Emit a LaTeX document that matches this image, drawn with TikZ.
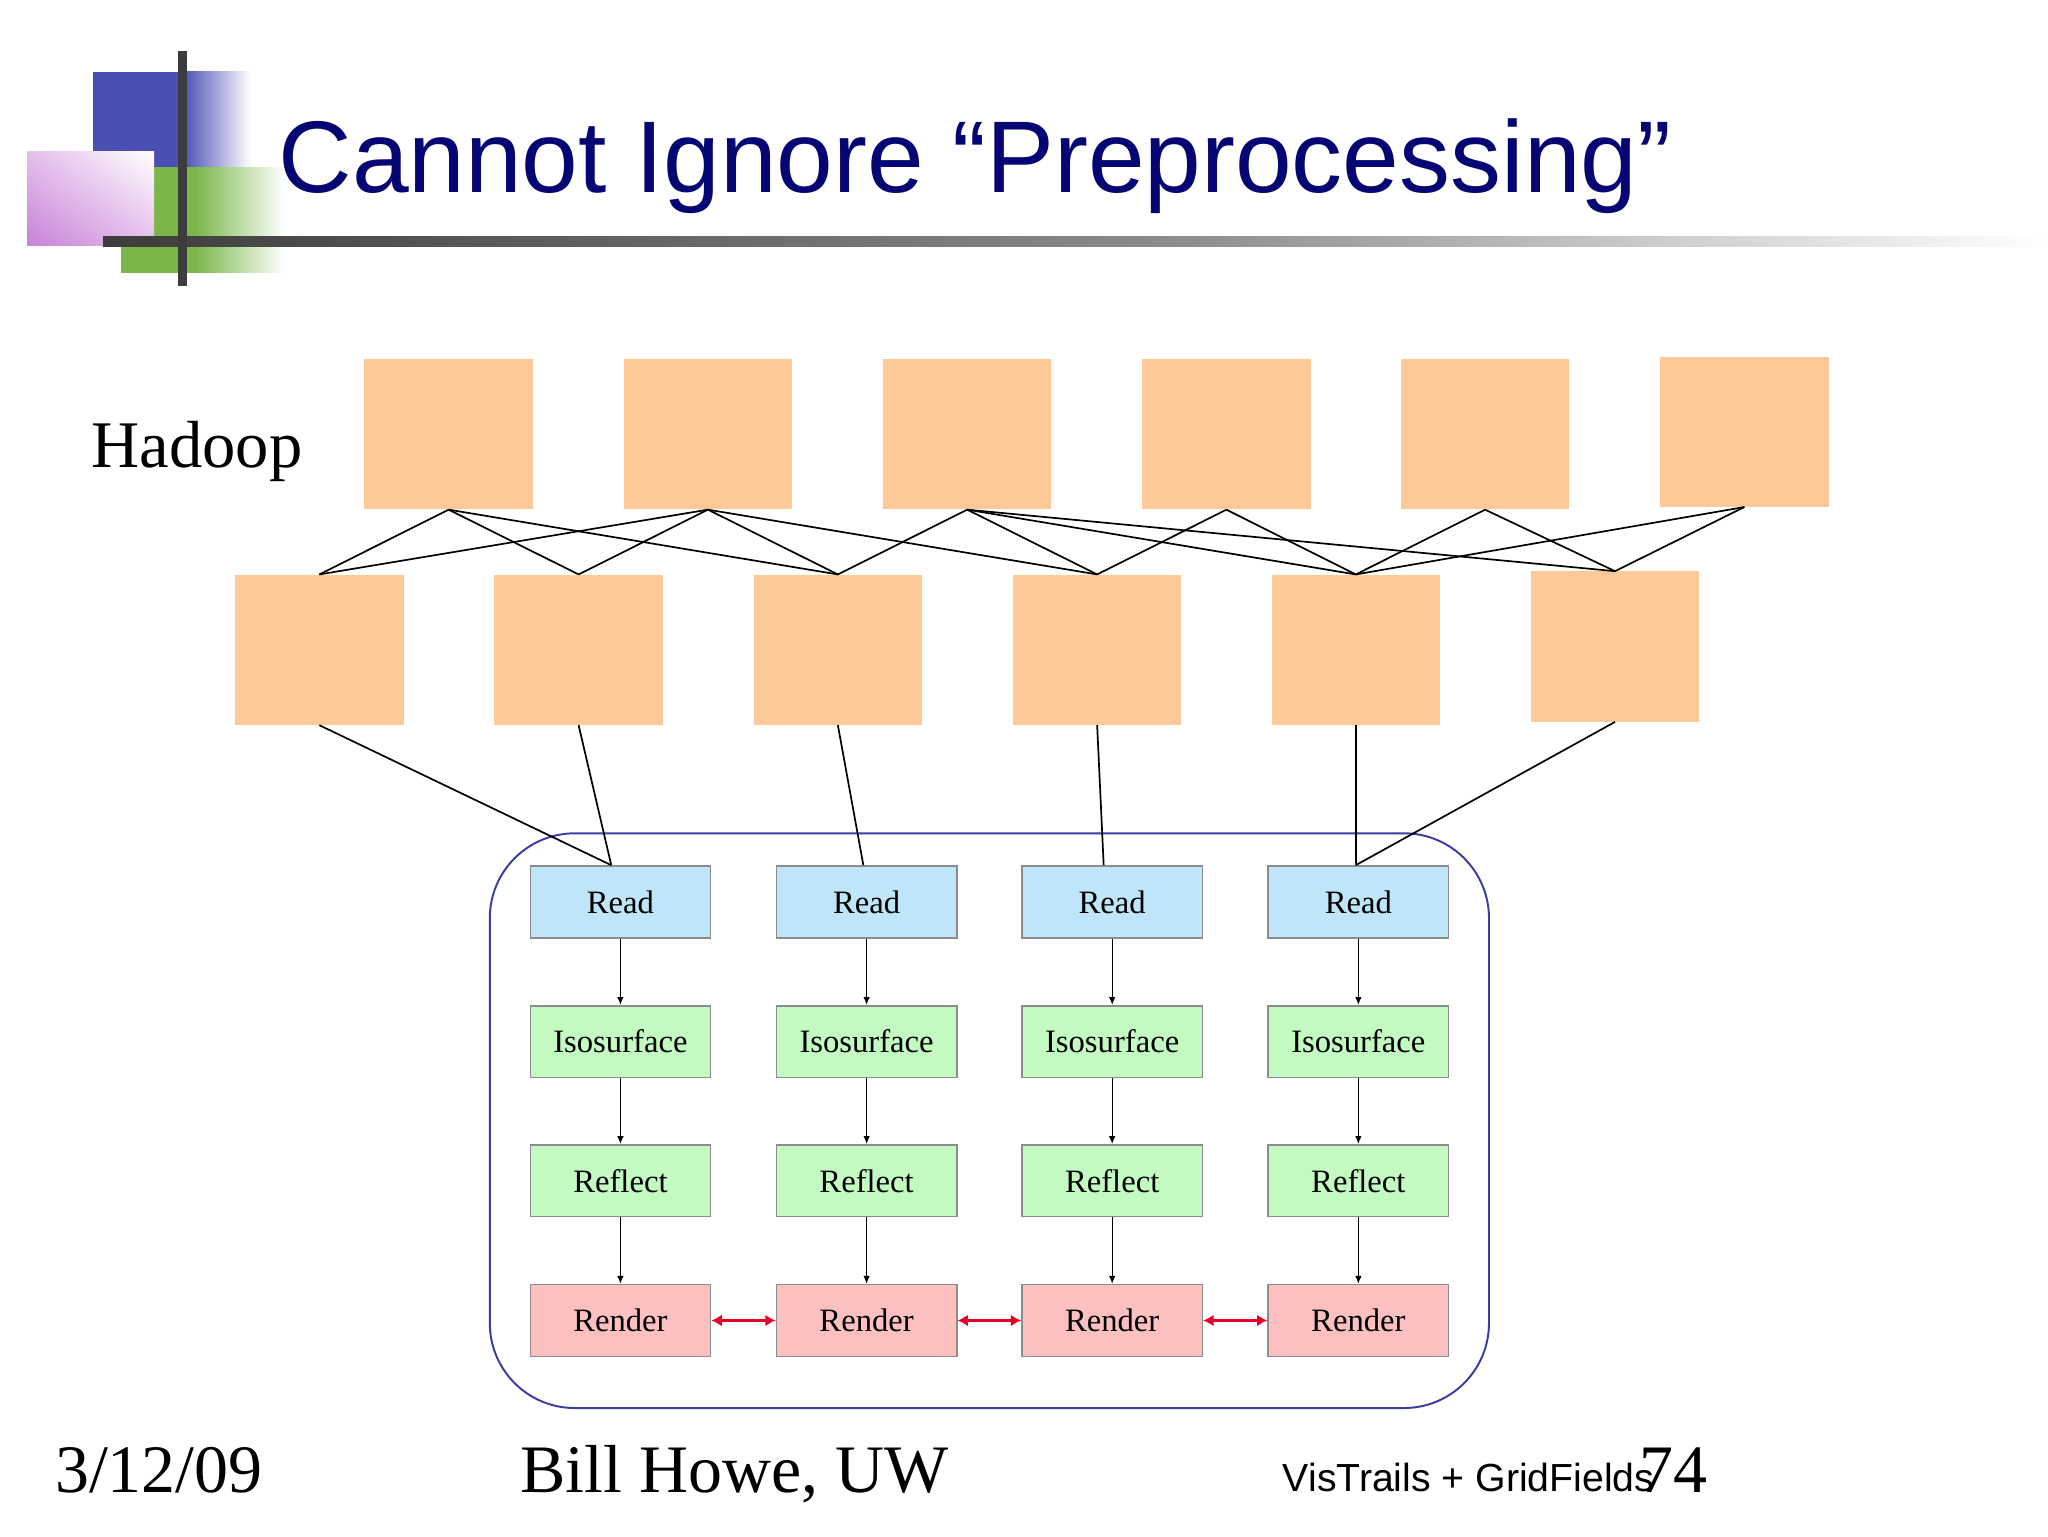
\documentclass[tikz,border=0pt]{standalone}
\usepackage{fontspec}
\setmainfont{Liberation Serif}
\newfontfamily\arialf{Liberation Sans}
\usetikzlibrary{arrows.meta,shadings}
\definecolor{peach}{RGB}{253,201,152}
\definecolor{logoblue}{RGB}{74,79,180}
\definecolor{logogreen}{RGB}{122,182,72}
\definecolor{pinkdark}{RGB}{200,130,215}
\definecolor{pinkmid}{RGB}{228,190,236}
\definecolor{bardark}{RGB}{60,60,60}
\definecolor{barmid}{RGB}{140,140,140}
\definecolor{titleblue}{RGB}{5,5,115}
\definecolor{readblue}{RGB}{191,230,248}
\definecolor{isogreen}{RGB}{194,250,194}
\definecolor{renderpink}{RGB}{252,192,192}
\definecolor{boxborder}{RGB}{140,140,140}
\definecolor{contblue}{RGB}{60,60,165}
\definecolor{arrred}{RGB}{232,0,40}
\tikzset{
  hbox/.style={fill=peach, draw=none, inner sep=0pt, minimum width=129pt, minimum height=115pt},
  pbox/.style={draw=boxborder, line width=1.2pt, inner sep=0pt, minimum width=138pt, minimum height=55pt, font=\fontsize{25}{27}\selectfont},
  readbox/.style={pbox, fill=readblue},
  isobox/.style={pbox, fill=isogreen},
  renderbox/.style={pbox, fill=renderpink},
  netline/.style={black, line width=1.3pt},
  flow/.style={black, line width=1pt, -{Latex[length=6pt,width=5pt]}},
  sync/.style={arrred, line width=3pt, {Latex[length=8pt,width=9pt]}-{Latex[length=8pt,width=9pt]}},
  txt/.style={inner sep=0pt, anchor=base west}
}
\begin{document}
\begin{tikzpicture}[x=1pt,y=-1pt]
\useasboundingbox (0,0) rectangle (1568,1176);
\fill[white] (0,0) rectangle (1568,1176);
% logo
\fill[logoblue] (71,55) rectangle (141,128);
\shade[left color=logoblue,right color=white] (140,55) rectangle (192,128);
\fill[logogreen] (93,128) rectangle (150,209);
\shade[left color=logogreen,right color=white] (149,128) rectangle (218,209);
\shade[lower left=pinkdark, upper right=white, upper left=pinkmid, lower right=pinkmid] (21,116) rectangle (118,188);
\shade[left color=bardark, right color=barmid] (79,181) rectangle (900,189);
\shade[left color=barmid, right color=white] (899,181) rectangle (1568,189);
\fill[bardark] (136,39) rectangle (143,219);
% title
\node[txt, text=titleblue, font=\arialf\fontsize{78}{80}\selectfont] (title) at (213,147) {Cannot Ignore “Preprocessing”};
\node[txt, font=\fontsize{51}{53}\selectfont] (hadoop) at (70,358) {Hadoop};
% hadoop boxes
\node[hbox] (T1) at (343.5,332.5) {};
\node[hbox] (T2) at (542,332.5) {};
\node[hbox] (T3) at (740.5,332.5) {};
\node[hbox] (T4) at (939,332.5) {};
\node[hbox] (T5) at (1137,332.5) {};
\node[hbox] (T6) at (1335.5,330.5) {};
\node[hbox] (B1) at (244.5,497.5) {};
\node[hbox] (B2) at (443,497.5) {};
\node[hbox] (B3) at (641.5,497.5) {};
\node[hbox] (B4) at (840,497.5) {};
\node[hbox] (B5) at (1038,497.5) {};
\node[hbox] (B6) at (1236.5,495) {};
\foreach \a/\b in {T1/B1,T1/B2,T1/B3,T2/B1,T2/B2,T2/B3,T2/B4,T3/B3,T3/B4,T3/B5,T3/B6,T4/B4,T4/B5,T5/B5,T5/B6,T6/B5,T6/B6}
  \draw[netline] (\a.south) -- (\b.north);
% container
\node[draw=contblue, line width=1.5pt, rounded corners=65pt, inner sep=0pt, minimum width=765pt, minimum height=440pt] (cont) at (757.5,858) {};
% pipelines
\foreach \i/\x in {1/475,2/663.5,3/851.5,4/1040}{
  \node[readbox] (R\i) at (\x,690.5) {Read};
  \node[isobox] (I\i) at (\x,797.5) {Isosurface};
  \node[isobox] (F\i) at (\x,904) {Reflect};
  \node[renderbox] (N\i) at (\x,1011) {Render};
  \draw[flow] (R\i.south) -- (I\i.north);
  \draw[flow] (I\i.south) -- (F\i.north);
  \draw[flow] (F\i.south) -- (N\i.north);
}
\draw[sync] (N1.east) -- (N2.west);
\draw[sync] (N2.east) -- (N3.west);
\draw[sync] (N3.east) -- (N4.west);
% hadoop to read
\draw[netline] (B1.south) -- ([xshift=-7pt]R1.north);
\draw[netline] (B2.south) -- ([xshift=-7pt]R1.north);
\draw[netline] (B3.south) -- ([xshift=-2.5pt]R2.north);
\draw[netline] (B4.south) -- ([xshift=-6.5pt]R3.north);
\draw[netline] (B5.south) -- ([xshift=-2pt]R4.north);
\draw[netline] (B6.south) -- ([xshift=-2pt]R4.north);
% footer
\node[txt, font=\fontsize{52}{54}\selectfont] (date) at (42,1143) {3/12/09};
\node[txt, font=\fontsize{52}{54}\selectfont] (author) at (398,1143) {Bill Howe, UW};
\node[txt, font=\arialf\fontsize{30}{32}\selectfont] (topic) at (982,1142) {VisTrails + GridFields};
\node[txt, font=\fontsize{52}{54}\selectfont] (page) at (1255,1143) {74};
\end{tikzpicture}
\end{document}
